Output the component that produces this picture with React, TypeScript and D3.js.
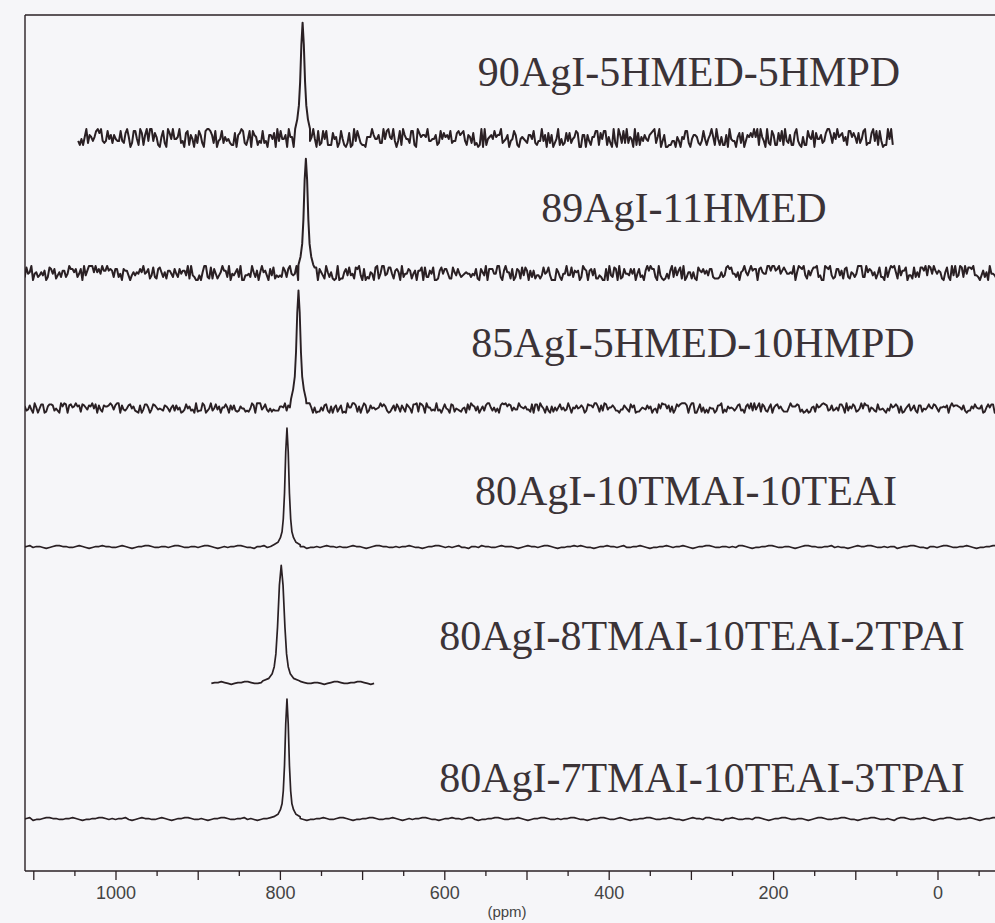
import React from "react";
import * as d3 from "d3";

const W = 995;
const H = 923;

// ---- data ----
const seriesNames = [
  "90AgI-5HMED-5HMPD",
  "89AgI-11HMED",
  "85AgI-5HMED-10HMPD",
  "80AgI-10TMAI-10TEAI",
  "80AgI-8TMAI-10TEAI-2TPAI",
  "80AgI-7TMAI-10TEAI-3TPAI",
];
const peakCenters = [773, 769, 778, 792, 799, 792];
const rangeStart = [1046, 1125, 1125, 1125, 884, 1125];
const rangeEnd = [55, -75, -75, -75, 686, -75];
const noiseLevel = [1.7, 1.35, 0.9, 0.8, 0.75, 0.8];

const peakOffsetsShort = [-9, -6.5, -4.5, -3, -1.5, 0, 1.5, 3, 4.5, 6.5, 9];
const peakOffsetsNarrow = [-16, -11, -8, -6, -4.5, -3, -1.5, 0, 1.5, 3, 4.5, 6, 8, 11, 16];
const peakOffsetsWide = [-22, -15, -11, -8.5, -6.5, -4.5, -2.2, 0, 2.2, 4.5, 6.5, 8.5, 11, 15, 22];
const peak1 = [8, 16, 28, 48, 80, 99, 80, 48, 28, 16, 8];
const peak2 = [7, 14, 25, 46, 80, 98, 80, 46, 25, 14, 7];
const peak3 = [8, 16, 27, 48, 82, 101, 82, 48, 27, 16, 8];
const peak4 = [2, 4, 8, 13, 24, 46, 82, 102, 82, 46, 24, 13, 8, 4, 2];
const peak5 = [2, 4, 8, 14, 25, 48, 84, 101, 84, 48, 25, 14, 8, 4, 2];
const peak6 = [2, 4, 8, 13, 24, 46, 82, 103, 82, 46, 24, 13, 8, 4, 2];

const noise1 =
  "31415926535897932384626433832795028841971693993751" +
  "05820974944592307816406286208998628034825342117067" +
  "98214808651328230664709384460955058223172535940812" +
  "84811174502841027019385211055596446229489549303819" +
  "64428810975665933446128475648233786783165271201909" +
  "14564856692346034861045432664821339360726024914127" +
  "37245870066063155881748815209209628292540917153643" +
  "67892590360011330530548820466521384146951941511609" +
  "43305727036575959195309218611738193261179310511854" +
  "80744623799627495673518857527248912279381830119491";
const noise2 =
  "71828182845904523536028747135266249775724709369995" +
  "95749669676277240766303535475945713821785251664274" +
  "27466391932003059921817413596629043572900334295260" +
  "59563073813232862794349076323382988075319525101901" +
  "15738341879307021540891499348841675092447614606680" +
  "82264800168477411853742345442437107539077744992069" +
  "55170276183860626133138458300075204493382656029760" +
  "67371132007093287091274437470472306969772093101416" +
  "92836819025515108657463772111252389784425056953696" +
  "77078544996996794686445490598793163688923009879312" +
  "77361782154249992295763514822082698951936680331825" +
  "28869398496465105820939239829488793320362509443117";
const noise3 =
  "41421356237309504880168872420969807856967187537694" +
  "80731766797379907324784621070388503875343276415727" +
  "35013846230912297024924836055850737212644121497099" +
  "93583141322266592750559275579995050115278206057147" +
  "01095599716059702745345968620147285174186408891986" +
  "09552329230484308714321450839762603627995251407989" +
  "68725339654633180882964062061525835239505474575028" +
  "77599617298355752203375318570113543746034084988471" +
  "60386899970699004815030544027790316454247823068492" +
  "93691862158057846311159666871301301561856898723723" +
  "52885092648612494977154218334204285686060146824720" +
  "77143585487415565706967765372022648544701585880162";
const noise4 =
  "54455645543456655445654345565544565434556654455456" +
  "65445545665434545566544355645456544565534454565545" +
  "44565543456655445455654434556654545644355465544565" +
  "55434565545665434455656544345565545644556543445565" +
  "45565434556654455454665434455665445543456655445564" +
  "54434565566544545534556654435545665445565434455665";
const noise5 = "45565434556654455456643455665445543456654455665434";
const noise6 =
  "45545634456655445565434455665454556434565544565434" +
  "55665445434556654455645434556654545665434455654456" +
  "65434455665445565434545566544345565545664344556654" +
  "45565434556654454556654434556654456543445566544556" +
  "54434565546654435565445546654345566544554345665445" +
  "56654434556654454356654455654345566544556543455665";

const noiseStrings = [noise1, noise2, noise3, noise4, noise5, noise6];
const peakShapes = [peak1, peak2, peak3, peak4, peak5, peak6];
const peakOffsets = [
  peakOffsetsShort,
  peakOffsetsShort,
  peakOffsetsShort,
  peakOffsetsNarrow,
  peakOffsetsWide,
  peakOffsetsNarrow,
];

const tickValues = d3.range(-50, 1101, 50);
const tickLabels = ["1000", "800", "600", "400", "200", "0"];
const xTitle = "(ppm)";

// ---- layout ----
const baselinesPx = [138, 273, 408, 547, 683, 819];
const labelPos = [
  [689, 86],
  [684, 222],
  [693, 357],
  [686, 505],
  [702, 650],
  [702, 792],
];
const strokeWidths = [2.0, 2.0, 1.9, 1.7, 1.7, 1.7];
const frameLeft = 25;
const frameTop = 15;
const axisY = 871;
const pxPerUnit = 1.165;

const lineColor = "#2a2024";
const textColor = "#3b3337";

function buildSeries(i: number): [number, number][] {
  const s = noiseStrings[i];
  const n = s.length;
  const step = (rangeStart[i] - rangeEnd[i]) / (n - 1);
  const c = peakCenters[i];
  const offs = peakOffsets[i];
  const maxOff = Math.max(...offs.map(Math.abs));
  const pts: [number, number][] = [];
  for (let k = 0; k < n; k++) {
    const ppm = rangeStart[i] - k * step;
    if (Math.abs(ppm - c) <= maxOff) continue;
    pts.push([ppm, (+s[k] - 4.5) * noiseLevel[i]]);
  }
  offs.forEach((o, j) => pts.push([c + o, peakShapes[i][j]]));
  pts.sort((a, b) => b[0] - a[0]);
  return pts;
}

export default function App() {
  const x = d3.scaleLinear().domain([1000, 0]).range([116, 938]);
  const y = d3.scaleLinear().domain([0, 100]).range([0, -100 * pxPerUnit]);

  const seriesData = seriesNames.map((_, i) => buildSeries(i));

  return (
    <svg
      width={W}
      height={H}
      style={{ position: "absolute", left: 0, top: 0, display: "block" }}
    >
      <defs>
        <clipPath id="plotClip">
          <rect x={frameLeft} y={0} width={W - frameLeft} height={axisY} />
        </clipPath>
      </defs>
      <rect x={0} y={0} width={W} height={H} fill="#f6f6f9" />

      {/* frame */}
      <line x1={frameLeft} y1={frameTop} x2={W} y2={frameTop} stroke={lineColor} strokeWidth={1.4} />
      <line x1={frameLeft} y1={frameTop} x2={frameLeft} y2={axisY} stroke={lineColor} strokeWidth={1.4} />
      <line x1={frameLeft} y1={axisY} x2={W} y2={axisY} stroke={lineColor} strokeWidth={1.4} />

      {/* spectra */}
      <g clipPath="url(#plotClip)">
        {seriesData.map((pts, i) => {
          const line = d3
            .line<[number, number]>()
            .x((d) => x(d[0]))
            .y((d) => baselinesPx[i] + y(d[1]));
          return (
            <path
              key={i}
              d={line(pts) || ""}
              fill="none"
              stroke={lineColor}
              strokeWidth={strokeWidths[i]}
              strokeLinejoin="round"
            />
          );
        })}
      </g>

      {/* labels */}
      {seriesNames.map((name, i) => (
        <text
          key={name}
          x={labelPos[i][0]}
          y={labelPos[i][1]}
          textAnchor="middle"
          fontFamily="'Liberation Serif', 'Times New Roman', serif"
          fontSize={42}
          fill={textColor}
        >
          {name}
        </text>
      ))}

      {/* x axis ticks */}
      {tickValues.map((t) => (
        <line
          key={t}
          x1={x(t)}
          x2={x(t)}
          y1={axisY}
          y2={axisY + (t % 100 === 0 ? 9 : 5)}
          stroke={lineColor}
          strokeWidth={1.3}
        />
      ))}
      {tickLabels.map((lab) => (
        <text
          key={lab}
          x={x(+lab)}
          y={899}
          textAnchor="middle"
          fontFamily="'Liberation Sans', Arial, sans-serif"
          fontSize={18}
          fill="#444"
        >
          {lab}
        </text>
      ))}
      <text
        x={507}
        y={917}
        textAnchor="middle"
        fontFamily="'Liberation Sans', Arial, sans-serif"
        fontSize={15}
        fill="#444"
      >
        {xTitle}
      </text>
    </svg>
  );
}
